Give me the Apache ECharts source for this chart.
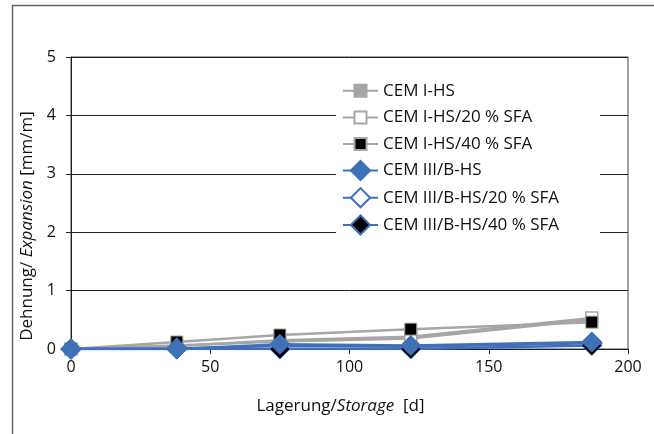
<!DOCTYPE html>
<html>
<head>
<meta charset="utf-8">
<script src="https://cdn.jsdelivr.net/npm/echarts@6/dist/echarts.min.js"></script>
<style>
html,body{margin:0;padding:0;background:#fff;}
#chart{width:654px;height:434px;}
</style>
</head>
<body>
<div id="chart"></div>
<script>
const days = [0, 38, 75, 122, 187];
const seriesNames = ['CEM I-HS', 'CEM I-HS/20 % SFA', 'CEM I-HS/40 % SFA', 'CEM III/B-HS', 'CEM III/B-HS/20 % SFA', 'CEM III/B-HS/40 % SFA'];
const cemI = [0, 0.06, 0.13, 0.18, 0.50];
const cemI20 = [0, 0.05, 0.15, 0.21, 0.53];
const cemI40 = [0, 0.12, 0.24, 0.34, 0.46];
const cemIII = [0, 0, 0.08, 0.06, 0.12];
const cemIII20 = [0, 0.01, 0.05, 0.04, 0.10];
const cemIII40 = [0, 0, 0, 0, 0.06];
const xTicks = [0, 50, 100, 150, 200];
const yTicks = [0, 1, 2, 3, 4, 5];

const GRAY = '#a6a6a6';
const BLUE = '#4070b8';
const FONT = 'Open Sans';

function pts(vals) { return days.map((d, i) => [d, vals[i]]); }

const styles = [
  { symbol: 'rect', size: 12, line: GRAY, fill: GRAY, border: GRAY, bw: 1, z: 2 },
  { symbol: 'rect', size: 12, line: GRAY, fill: '#ffffff', border: GRAY, bw: 1.5, z: 2 },
  { symbol: 'rect', size: 12, line: GRAY, fill: '#000000', border: GRAY, bw: 1, z: 2 },
  { symbol: 'diamond', size: 20, line: BLUE, fill: BLUE, border: BLUE, bw: 1, z: 4 },
  { symbol: 'diamond', size: 20, line: BLUE, fill: '#ffffff', border: BLUE, bw: 1.5, z: 3 },
  { symbol: 'diamond', size: 20, line: BLUE, fill: '#000000', border: BLUE, bw: 1, z: 3 }
];
const values = [cemI, cemI20, cemI40, cemIII, cemIII20, cemIII40];

const series = seriesNames.map((name, i) => ({
  name: name,
  type: 'line',
  data: pts(values[i]),
  symbol: styles[i].symbol,
  symbolSize: styles[i].size,
  showAllSymbol: true,
  z: styles[i].z,
  lineStyle: { color: styles[i].line, width: 2.5 },
  itemStyle: { color: styles[i].fill, borderColor: styles[i].border, borderWidth: styles[i].bw },
  emphasis: { disabled: true },
  animation: false
}));

const chart = echarts.init(document.getElementById('chart'), null, { renderer: 'canvas' });
chart.setOption({
  animation: false,
  backgroundColor: '#ffffff',
  textStyle: { fontFamily: FONT },
  graphic: [
    { type: 'rect', z: 0, silent: true, shape: { x: 12.5, y: 5.5, width: 800, height: 600 },
      style: { fill: 'none', stroke: '#666', lineWidth: 1.5 } },
    { type: 'rect', z: 3, silent: true, shape: { x: 336, y: 74, width: 264, height: 170 },
      style: { fill: '#ffffff', stroke: 'none' } }
  ],
  grid: { left: 71, right: 26, top: 57, bottom: 85, show: true, borderColor: '#444', borderWidth: 1, backgroundColor: 'transparent' },
  legend: [
    {
      data: seriesNames.slice(0, 3),
      orient: 'vertical', left: 342, top: 78.7, padding: 0,
      itemWidth: 35, itemHeight: 15, itemGap: 2.7, z: 5,
      textStyle: { fontFamily: FONT, fontSize: 17, color: '#111', lineHeight: 24 },
      selectedMode: false
    },
    {
      data: seriesNames.slice(3),
      orient: 'vertical', left: 342, top: 158.5, padding: 0,
      itemWidth: 35, itemHeight: 24, itemGap: 3.2, z: 5,
      textStyle: { fontFamily: FONT, fontSize: 17, color: '#111', lineHeight: 24 },
      selectedMode: false
    }
  ],
  xAxis: {
    type: 'value', min: xTicks[0], max: xTicks[xTicks.length - 1], interval: 50,
    name: '{a|Lagerung/}{b|Storage}{a|  [d]}',
    nameLocation: 'middle', nameGap: 49,
    nameTextStyle: {
      padding: [0, 18, 0, 0],
      rich: {
        a: { fontFamily: FONT, fontSize: 17, color: '#111' },
        b: { fontFamily: FONT, fontSize: 17, color: '#111', fontStyle: 'italic' }
      }
    },
    axisLine: { show: true, lineStyle: { color: '#222', width: 1 } },
    axisTick: { show: true, inside: false, length: 5, lineStyle: { color: '#222' } },
    axisLabel: { margin: 10, fontSize: 16, color: '#111', fontFamily: FONT },
    splitLine: { show: false }
  },
  yAxis: {
    type: 'value', min: yTicks[0], max: yTicks[yTicks.length - 1], interval: 1,
    name: '{a|Dehnung/ }{b|Expansion}{a| [mm/m]}',
    nameLocation: 'middle', nameGap: 33,
    nameTextStyle: {
      padding: [0, 46, 0, 0],
      rich: {
        a: { fontFamily: FONT, fontSize: 17, color: '#111' },
        b: { fontFamily: FONT, fontSize: 17, color: '#111', fontStyle: 'italic' }
      }
    },
    axisLine: { show: true, lineStyle: { color: '#222', width: 1 } },
    axisTick: { show: true, inside: false, length: 5, lineStyle: { color: '#222' } },
    axisLabel: { margin: 15, fontSize: 16, color: '#111', fontFamily: FONT },
    splitLine: { show: true, lineStyle: { color: '#222', width: 1 } }
  },
  series: series
});
</script>
</body>
</html>
